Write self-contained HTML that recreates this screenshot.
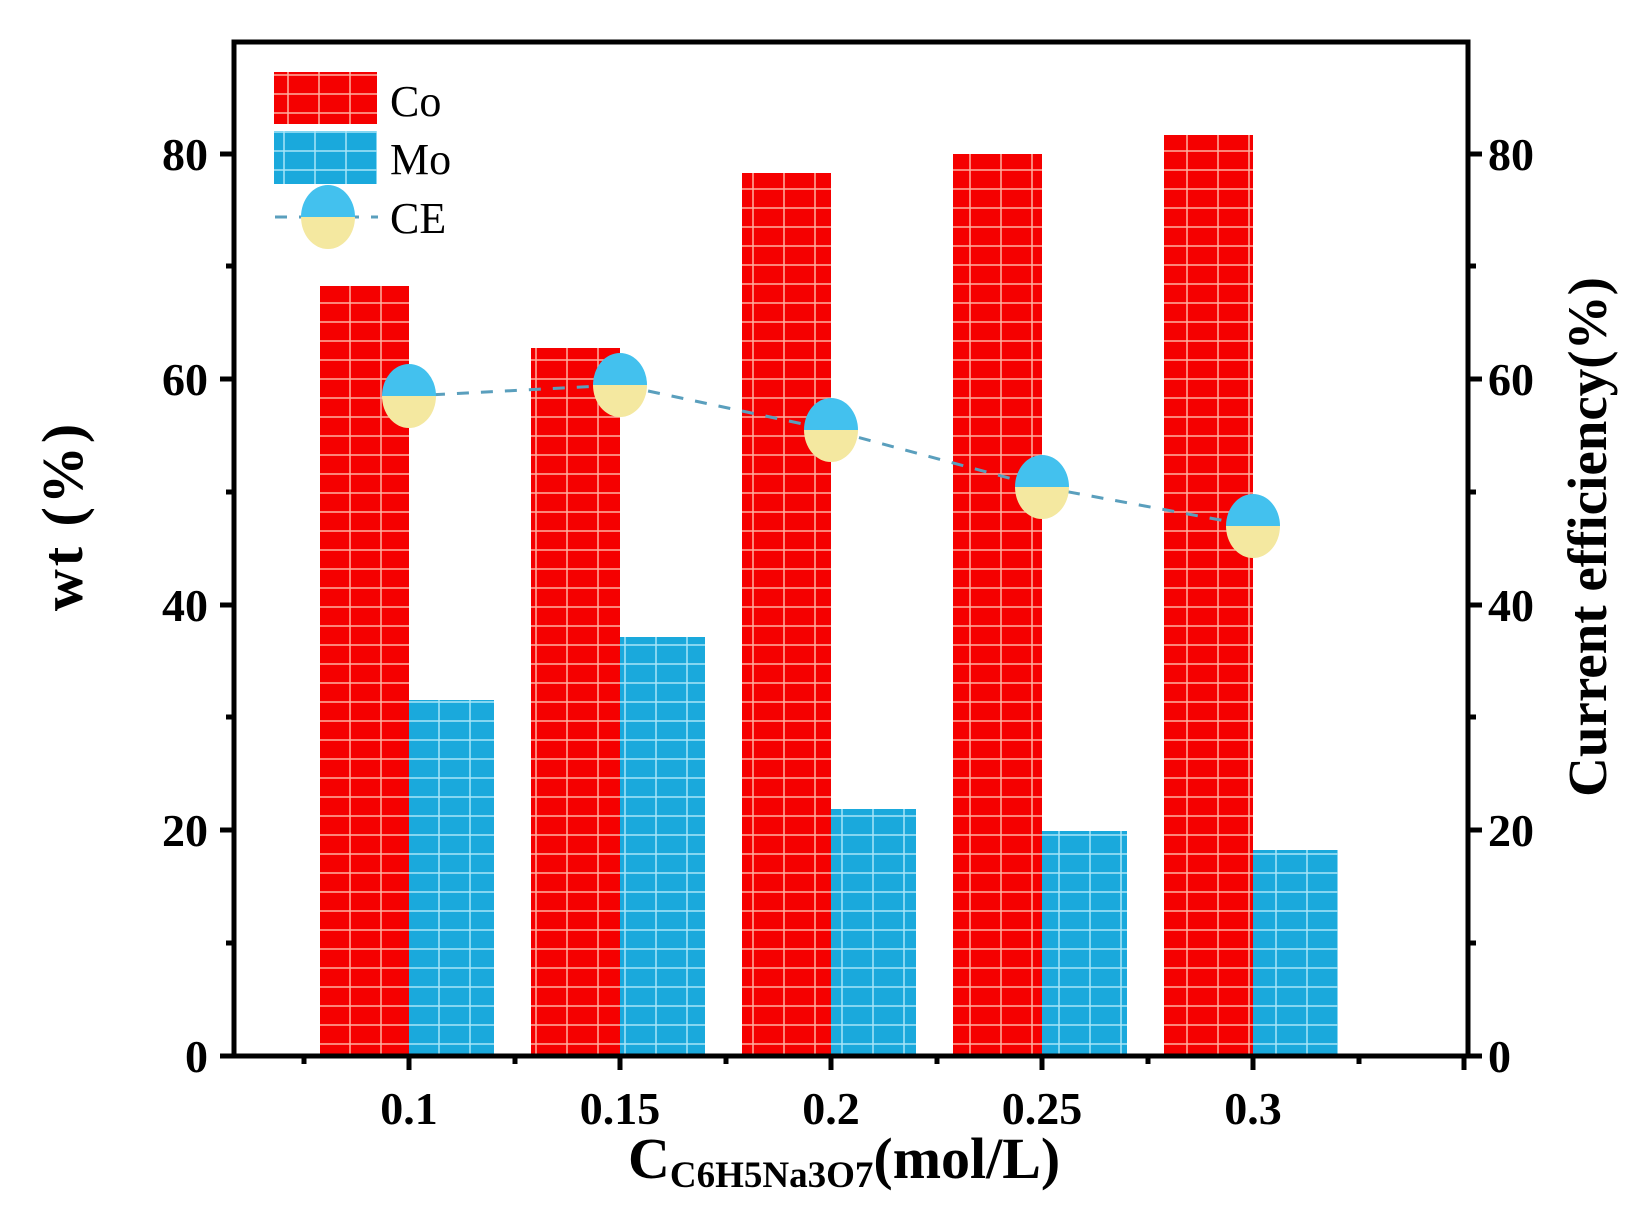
<!DOCTYPE html>
<html><head><meta charset="utf-8"><style>
html,body{margin:0;padding:0;background:#fff;}
svg{display:block;}
text{font-family:"Liberation Serif",serif;font-weight:bold;fill:#000;}
text.n{font-weight:normal;}
</style></head><body>
<svg width="1643" height="1224" viewBox="0 0 1643 1224" xmlns="http://www.w3.org/2000/svg">
<defs>
<pattern id="pr" width="31" height="19" patternUnits="userSpaceOnUse" x="320" y="0">
<rect width="31" height="19" fill="#f50000"/>
<line x1="30" y1="0" x2="30" y2="19" stroke="#ffb0a0" stroke-width="1.5"/>
<line x1="0" y1="18" x2="31" y2="18" stroke="#ffb0a0" stroke-width="1.5"/>
</pattern>
<pattern id="pb" width="31" height="19" patternUnits="userSpaceOnUse" x="409" y="0">
<rect width="31" height="19" fill="#1aa9dc"/>
<line x1="30" y1="0" x2="30" y2="19" stroke="#a8e6f8" stroke-width="1.5"/>
<line x1="0" y1="18" x2="31" y2="18" stroke="#a8e6f8" stroke-width="1.5"/>
</pattern>
<clipPath id="top"><rect x="-50" y="-50" width="100" height="50"/></clipPath>
<clipPath id="bot"><rect x="-50" y="0" width="100" height="50"/></clipPath>
<g id="mk">
<ellipse cx="0" cy="0" rx="27" ry="32" fill="#f4e8a0" clip-path="url(#bot)"/>
<ellipse cx="0" cy="0" rx="27" ry="32" fill="#43c1ee" clip-path="url(#top)"/>
</g>
</defs>

<g>
<rect x="320" y="286" width="89" height="770" fill="url(#pr)"/>
<rect x="409" y="700" width="85" height="356" fill="url(#pb)"/>
<rect x="531" y="348" width="89" height="708" fill="url(#pr)"/>
<rect x="620" y="637" width="85" height="419" fill="url(#pb)"/>
<rect x="742" y="173" width="89" height="883" fill="url(#pr)"/>
<rect x="831" y="809" width="85" height="247" fill="url(#pb)"/>
<rect x="953" y="154" width="89" height="902" fill="url(#pr)"/>
<rect x="1042" y="831" width="85" height="225" fill="url(#pb)"/>
<rect x="1164" y="135" width="89" height="921" fill="url(#pr)"/>
<rect x="1253" y="850" width="85" height="206" fill="url(#pb)"/>
</g>

<polyline points="409,396 620,385 831,430 1042,487 1253,526" fill="none" stroke="#5a9fbd" stroke-width="3" stroke-dasharray="12,12"/>
<use href="#mk" x="409" y="396"/>
<use href="#mk" x="620" y="385"/>
<use href="#mk" x="831" y="430"/>
<use href="#mk" x="1042" y="487"/>
<use href="#mk" x="1253" y="526"/>

<rect x="234" y="42" width="1234" height="1014" fill="none" stroke="#000" stroke-width="5"/>

<g stroke="#000" stroke-width="5">
<line x1="220" y1="1056" x2="234" y2="1056"/><line x1="220" y1="830" x2="234" y2="830"/>
<line x1="220" y1="605" x2="234" y2="605"/><line x1="220" y1="379" x2="234" y2="379"/>
<line x1="220" y1="154" x2="234" y2="154"/>
<line x1="226" y1="943" x2="234" y2="943"/><line x1="226" y1="717" x2="234" y2="717"/>
<line x1="226" y1="492" x2="234" y2="492"/><line x1="226" y1="266" x2="234" y2="266"/>
<line x1="1468" y1="1056" x2="1482" y2="1056"/><line x1="1468" y1="830" x2="1482" y2="830"/>
<line x1="1468" y1="605" x2="1482" y2="605"/><line x1="1468" y1="379" x2="1482" y2="379"/>
<line x1="1468" y1="154" x2="1482" y2="154"/>
<line x1="1468" y1="943" x2="1476" y2="943"/><line x1="1468" y1="717" x2="1476" y2="717"/>
<line x1="1468" y1="492" x2="1476" y2="492"/><line x1="1468" y1="266" x2="1476" y2="266"/>
<line x1="409" y1="1056" x2="409" y2="1070"/><line x1="620" y1="1056" x2="620" y2="1070"/>
<line x1="831" y1="1056" x2="831" y2="1070"/><line x1="1042" y1="1056" x2="1042" y2="1070"/>
<line x1="1253" y1="1056" x2="1253" y2="1070"/><line x1="1464" y1="1056" x2="1464" y2="1070"/>
<line x1="304" y1="1056" x2="304" y2="1064"/><line x1="515" y1="1056" x2="515" y2="1064"/>
<line x1="726" y1="1056" x2="726" y2="1064"/><line x1="937" y1="1056" x2="937" y2="1064"/>
<line x1="1148" y1="1056" x2="1148" y2="1064"/><line x1="1359" y1="1056" x2="1359" y2="1064"/>
</g>

<g font-size="46" text-anchor="end">
<text x="208" y="1072">0</text><text x="208" y="846">20</text>
<text x="208" y="621">40</text><text x="208" y="395">60</text><text x="208" y="170">80</text>
</g>
<g font-size="46" text-anchor="start">
<text x="1488" y="1072">0</text><text x="1488" y="846">20</text>
<text x="1488" y="621">40</text><text x="1488" y="395">60</text><text x="1488" y="170">80</text>
</g>
<g font-size="46" text-anchor="middle">
<text x="409" y="1124">0.1</text><text x="620" y="1124">0.15</text>
<text x="831" y="1124">0.2</text><text x="1042" y="1124">0.25</text><text x="1253" y="1124">0.3</text>
</g>

<text font-size="58" text-anchor="middle" letter-spacing="3" transform="translate(82,516) rotate(-90)">wt (%)</text>
<text font-size="55" text-anchor="middle" transform="translate(1606,537) rotate(-90)">Current efficiency(%)</text>
<text font-size="58" x="628" y="1178">C<tspan font-size="37" dy="9">C6H5Na3O7</tspan><tspan dy="-9">(mol/L)</tspan></text>

<rect x="274" y="72" width="103" height="52" fill="url(#pr)"/>
<rect x="274" y="131" width="103" height="53" fill="url(#pb)"/>
<line x1="275" y1="217" x2="378" y2="217" stroke="#5a9fbd" stroke-width="3" stroke-dasharray="12,12"/>
<use href="#mk" x="328" y="217"/>
<g font-size="44">
<text class="n" x="390" y="116">Co</text>
<text class="n" x="390" y="174">Mo</text>
<text class="n" x="390" y="233">CE</text>
</g>
</svg>
</body></html>
